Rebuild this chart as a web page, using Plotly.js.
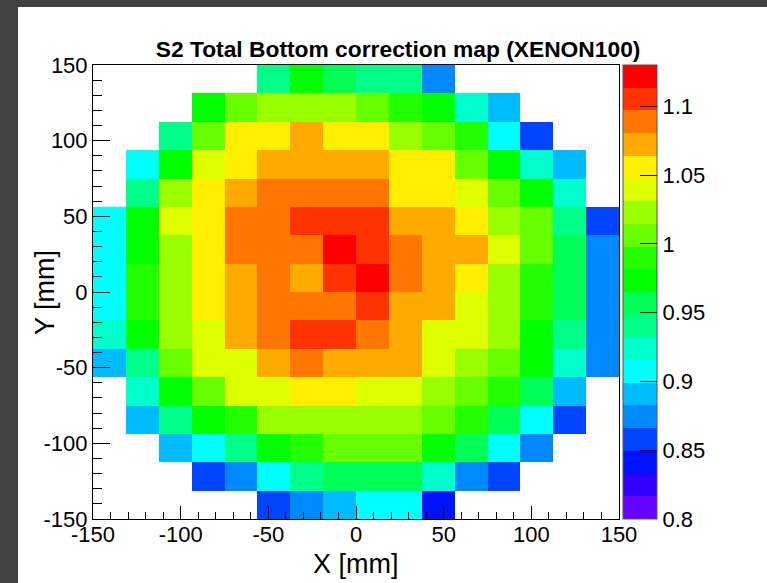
<!DOCTYPE html>
<html>
<head>
<meta charset="utf-8">
<script src="https://cdn.plot.ly/plotly-3.0.1.min.js"></script>
<style>
  html, body { margin: 0; padding: 0; width: 767px; height: 583px; overflow: hidden; background: #424242; }
  #chart { position: absolute; left: 18px; top: 7px; width: 749px; height: 576px; background: #ffffff; }
</style>
</head>
<body>
<div id="chart"></div>
<script>
// Bin centres of the 16 x 16 map (mm)
const xCenters = [-140.625, -121.875, -103.125, -84.375, -65.625, -46.875, -28.125, -9.375,
                  9.375, 28.125, 46.875, 65.625, 84.375, 103.125, 121.875, 140.625];
const yCenters = [-140.625, -121.875, -103.125, -84.375, -65.625, -46.875, -28.125, -9.375,
                  9.375, 28.125, 46.875, 65.625, 84.375, 103.125, 121.875, 140.625];

// Axis tick positions and their labels (plain hyphen for negatives)
const axisTickVals = [-150, -100, -50, 0, 50, 100, 150];
const axisTickText = ['-150', '-100', '-50', '0', '50', '100', '150'];

// Colour-bar tick positions and labels
const barTickVals = [0.8, 0.85, 0.9, 0.95, 1.0, 1.05, 1.1];
const barTickText = ['0.8', '0.85', '0.9', '0.95', '1', '1.05', '1.1'];

// Correction factors, rows listed from the top (Y = +150) down to the bottom (Y = -150)
const n = null;
const rowsTopDown = [
  [n, n, n, n, n, 0.940, 0.973, 0.957, 0.940, 0.940, 0.874, n, n, n, n, n],
  [n, n, n, 0.973, 1.006, 1.023, 1.023, 1.023, 1.006, 0.990, 0.973, 0.924, 0.891, n, n, n],
  [n, n, 0.940, 1.006, 1.056, 1.056, 1.072, 1.056, 1.056, 1.023, 1.006, 0.990, 0.907, 0.858, n, n],
  [n, 0.907, 0.973, 1.039, 1.056, 1.072, 1.072, 1.072, 1.072, 1.056, 1.056, 1.006, 0.973, 0.924, 0.891, n],
  [n, 0.940, 1.023, 1.056, 1.072, 1.089, 1.089, 1.089, 1.089, 1.056, 1.056, 1.039, 1.006, 0.973, 0.924, n],
  [0.907, 0.973, 1.039, 1.056, 1.089, 1.089, 1.105, 1.105, 1.105, 1.072, 1.072, 1.056, 1.023, 1.006, 0.940, 0.858],
  [0.907, 0.973, 1.023, 1.056, 1.089, 1.089, 1.089, 1.122, 1.105, 1.089, 1.072, 1.072, 1.039, 1.006, 0.957, 0.874],
  [0.907, 0.990, 1.023, 1.056, 1.072, 1.089, 1.072, 1.105, 1.122, 1.089, 1.072, 1.056, 1.023, 0.990, 0.957, 0.874],
  [0.907, 0.990, 1.023, 1.056, 1.072, 1.089, 1.089, 1.089, 1.105, 1.072, 1.072, 1.039, 1.023, 0.990, 0.957, 0.874],
  [0.924, 0.973, 1.023, 1.039, 1.072, 1.089, 1.105, 1.105, 1.089, 1.072, 1.039, 1.039, 1.023, 0.973, 0.940, 0.874],
  [0.891, 0.940, 1.006, 1.039, 1.039, 1.072, 1.089, 1.072, 1.072, 1.072, 1.039, 1.023, 1.006, 0.973, 0.924, 0.874],
  [n, 0.924, 0.973, 1.006, 1.039, 1.039, 1.056, 1.056, 1.039, 1.039, 1.023, 1.006, 0.990, 0.957, 0.891, n],
  [n, 0.891, 0.940, 0.973, 0.990, 1.023, 1.023, 1.023, 1.023, 1.023, 1.006, 0.990, 0.957, 0.907, 0.858, n],
  [n, n, 0.891, 0.907, 0.940, 0.973, 0.990, 1.006, 1.006, 1.006, 0.973, 0.957, 0.907, 0.874, n, n],
  [n, n, n, 0.858, 0.874, 0.907, 0.940, 0.957, 0.957, 0.957, 0.924, 0.874, 0.858, n, n, n],
  [n, n, n, n, n, 0.858, 0.874, 0.891, 0.907, 0.907, 0.841, n, n, n, n, n]
];

// 20-level rainbow palette, lowest contour first
const paletteColors = [
  '#6600ff', '#3300ff', '#0011ff', '#0044ff', '#0088ff',
  '#00bbff', '#00ffff', '#00ffcc', '#00ff88', '#00ff55',
  '#00ff00', '#22ff00', '#66ff00', '#99ff00', '#ddff00',
  '#ffee00', '#ffaa00', '#ff7700', '#ff3300', '#ff0000'
];

const zMin = 0.8;
const zMax = 1.13;

// Stepped colour scale: each contour band is a flat colour
const stepScale = [];
paletteColors.forEach((c, i) => {
  stepScale.push([i / paletteColors.length, c]);
  stepScale.push([(i + 1) / paletteColors.length, c]);
});

const zGrid = rowsTopDown.slice().reverse();

const font = 'Liberation Sans, Arial, Helvetica, sans-serif';

const trace = {
  type: 'heatmap',
  x: xCenters,
  y: yCenters,
  z: zGrid,
  zmin: zMin,
  zmax: zMax,
  colorscale: stepScale,
  hoverongaps: false,
  colorbar: {
    x: 1.0076,
    xanchor: 'left',
    xref: 'paper',
    y: 0.5,
    yanchor: 'middle',
    len: 1,
    lenmode: 'fraction',
    thickness: 34,
    thicknessmode: 'pixels',
    outlinewidth: 1,
    outlinecolor: '#555555',
    tickmode: 'array',
    tickvals: barTickVals,
    ticktext: barTickText,
    ticks: 'inside',
    ticklen: 17,
    tickwidth: 1,
    tickcolor: '#000000',
    tickfont: { family: font, size: 22, color: '#000000' },
    xpad: 0,
    ypad: 0
  }
};

function axisStyle(majorLen, minorLen, extra) {
  return Object.assign({
    range: [-150, 150],
    tickmode: 'array',
    tickvals: axisTickVals,
    ticktext: axisTickText,
    ticks: 'inside',
    ticklen: majorLen,
    tickwidth: 1,
    tickcolor: '#000000',
    minor: { tickmode: 'linear', tick0: -150, dtick: 10, ticks: 'inside', ticklen: minorLen, tickwidth: 1, tickcolor: '#000000', showgrid: false },
    showgrid: false,
    zeroline: false,
    showline: true,
    linecolor: '#000000',
    linewidth: 1,
    mirror: true,
    tickfont: { family: font, size: 22, color: '#000000' },
    title: { text: '' }
  }, extra);
}

const layout = {
  width: 749,
  height: 576,
  margin: { l: 75, r: 148, t: 58, b: 64 },
  paper_bgcolor: '#ffffff',
  plot_bgcolor: '#ffffff',
  showlegend: false,
  title: {
    text: '<b>S2 Total Bottom correction map (XENON100)</b>',
    font: { family: font, size: 22.8, color: '#000000' },
    x: 0.58,
    xref: 'paper',
    xanchor: 'center',
    y: 0.927,
    yref: 'container',
    yanchor: 'middle'
  },
  xaxis: axisStyle(13, 7, { ticklabelstandoff: -4 }),
  yaxis: axisStyle(17, 9, {}),
  annotations: [
    {
      text: 'X [mm]',
      xref: 'paper', yref: 'paper',
      x: 0.5, y: -0.099,
      xanchor: 'center', yanchor: 'middle',
      showarrow: false,
      font: { family: font, size: 27, color: '#000000' }
    },
    {
      text: 'Y [mm]',
      xref: 'paper', yref: 'paper',
      x: -0.0913, y: 0.5,
      xanchor: 'center', yanchor: 'middle',
      textangle: -90,
      showarrow: false,
      font: { family: font, size: 27, color: '#000000' }
    }
  ]
};

Plotly.newPlot('chart', [trace], layout, { displayModeBar: false, staticPlot: true });
</script>
</body>
</html>
